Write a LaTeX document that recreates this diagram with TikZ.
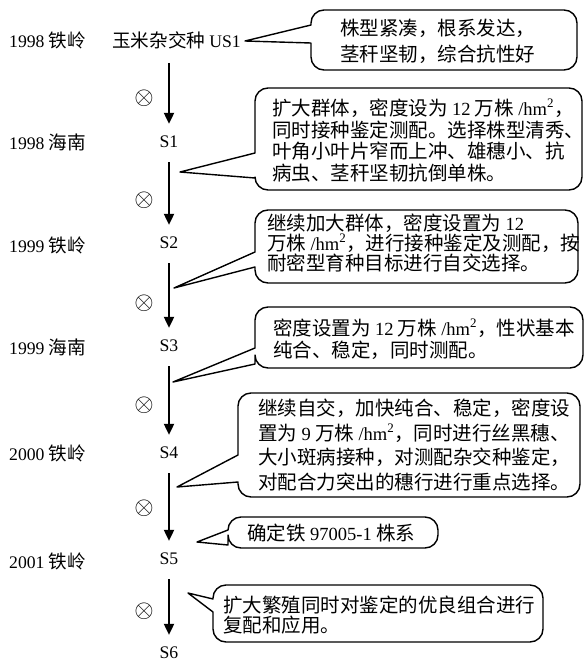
\documentclass[tikz,border=0pt]{standalone}
\usepackage{fontspec}
\setmainfont{Noto Sans CJK SC}
\newfontfamily\lat{Liberation Serif}[Scale=0.95]
\usetikzlibrary{arrows.meta}
\tikzset{
  lbl/.style={inner sep=0pt, anchor=west, font=\fontsize{18.6}{22}\selectfont},
  slbl/.style={inner sep=0pt, font=\fontsize{18.6}{22}\selectfont\lat},
  txt/.style={inner sep=0pt, align=left, anchor=west},
  bub/.style={line width=1.4pt, line join=round},
  arr/.style={line width=1.9pt, -{Triangle[length=11pt,width=10pt]}, shorten <=14pt, shorten >=12pt},
  crossmark/.style={inner sep=0pt, font=\fontsize{27}{27}\selectfont},
}
\newcommand\callbub[7]{\draw[bub] (#7) -- (#1,#5) [rounded corners=13pt] -- (#1,#2) -- (#3,#2) -- (#3,#4) -- (#1,#4) [sharp corners] -- (#1,#6) -- cycle;}
\begin{document}
\begin{tikzpicture}[x=1pt,y=-1pt]
\useasboundingbox (0,0) rectangle (585,662);
% left labels
\node[lbl] (y0) at (9,40) {{\lat 1998} 铁岭};
\node[lbl] (y1) at (9,142) {{\lat 1998} 海南};
\node[lbl] (y2) at (9,245) {{\lat 1999} 铁岭};
\node[lbl] (y3) at (9,347) {{\lat 1999} 海南};
\node[lbl] (y4) at (9,453) {{\lat 2000} 铁岭};
\node[lbl] (y5) at (9,561) {{\lat 2001} 铁岭};
% generations
\node[lbl] (us1) at (112,40) {玉米杂交种 {\lat US1}};
\node[slbl] (s1) at (169,142) {S1};
\node[slbl] (s2) at (169,243) {S2};
\node[slbl] (s3) at (169,346) {S3};
\node[slbl] (s4) at (169,453) {S4};
\node[slbl] (s5) at (169,559) {S5};
\node[slbl] (s6) at (169,653) {S6};
% arrows
\draw[arr] (us1.south -| s1) -- (s1);
\draw[arr] (s1) -- (s2);
\draw[arr] (s2) -- (s3);
\draw[arr] (s3) -- (s4);
\draw[arr] (s4) -- (s5);
\draw[arr] (s5) -- (s6);
% selfing marks
\node[crossmark] (c1) at (144,98) {$\otimes$};
\node[crossmark] (c2) at (144,200) {$\otimes$};
\node[crossmark] (c3) at (144,303) {$\otimes$};
\node[crossmark] (c4) at (144,405) {$\otimes$};
\node[crossmark] (c5) at (144,508) {$\otimes$};
\node[crossmark] (c6) at (144,611) {$\otimes$};
% pointer tips
\coordinate (p1) at (245,41);
\coordinate (p2) at (180,172);
\coordinate (p3) at (174,288);
\coordinate (p4) at (173,382);
\coordinate (p5) at (177,487);
\coordinate (p6) at (197,542);
\coordinate (p7) at (188,593);
% bubbles
\callbub{311}{10}{577}{70}{25}{43}{p1}
\callbub{255}{88}{582}{190}{153}{178}{p2}
\callbub{255}{210}{578}{283}{252}{267}{p3}
\callbub{255}{307}{583}{368}{348}{364}{p4}
\callbub{238}{393}{580}{497}{455}{482}{p5}
\callbub{228}{517}{438}{548}{530}{545}{p6}
\callbub{213}{585}{543}{642}{599}{612}{p7}
% bubble texts
\node[txt, font=\fontsize{19.5}{26}\selectfont] (b1) at (340,41) {株型紧凑，根系发达，\\茎秆坚韧，综合抗性好};
\node[txt, font=\fontsize{19.5}{21.7}\selectfont] (b2) at (272,140.5) {扩大群体，密度设为 {\lat 12} 万株 {\lat /hm\textsuperscript{2}}，\\同时接种鉴定测配。选择株型清秀、\\叶角小叶片窄而上冲、雄穗小、抗\\病虫、茎秆坚韧抗倒单株。};
\node[txt, font=\fontsize{19.5}{20}\selectfont] (b3) at (267,243) {继续加大群体，密度设置为 {\lat 12}\\万株 {\lat /hm\textsuperscript{2}}，进行接种鉴定及测配，按\\耐密型育种目标进行自交选择。};
\node[txt, font=\fontsize{19.5}{22}\selectfont] (b4) at (273,339) {密度设置为 {\lat 12} 万株 {\lat /hm\textsuperscript{2}}，性状基本\\纯合、稳定，同时测配。};
\node[txt, font=\fontsize{19.5}{24.7}\selectfont] (b5) at (258,445) {继续自交，加快纯合、稳定，密度设\\置为 {\lat 9} 万株 {\lat /hm\textsuperscript{2}}，同时进行丝黑穗、\\大小斑病接种，对测配杂交种鉴定，\\对配合力突出的穗行进行重点选择。};
\node[txt, font=\fontsize{19.5}{22}\selectfont] (b6) at (247,533) {确定铁 {\lat 97005-1} 株系};
\node[txt, font=\fontsize{19.5}{20}\selectfont] (b7) at (223,615) {扩大繁殖同时对鉴定的优良组合进行\\复配和应用。};
\end{tikzpicture}
\end{document}
